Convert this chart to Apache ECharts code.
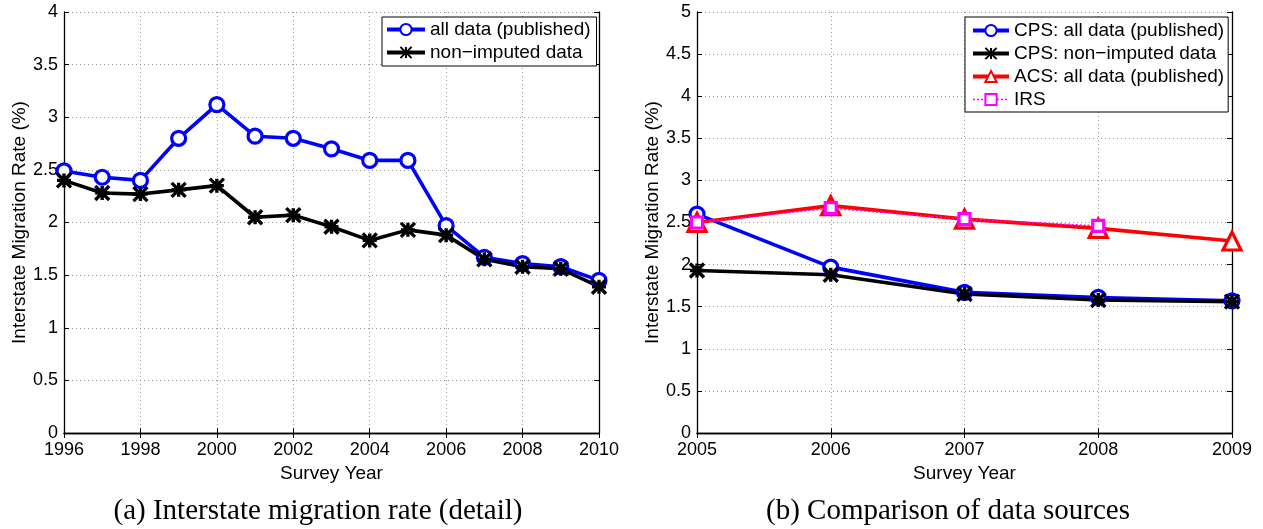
<!DOCTYPE html>
<html><head><meta charset="utf-8">
<script src="https://cdn.jsdelivr.net/npm/echarts@6/dist/echarts.min.js"></script>
<style>html,body{margin:0;padding:0;background:#fff}#c{width:1263px;height:529px}</style>
</head><body><div id="c"></div>
<script>
// ---- data ----
const yearsA = [1996,1997,1998,1999,2000,2001,2002,2003,2004,2005,2006,2007,2008,2009,2010];
const allDataA = [2.49,2.43,2.40,2.80,3.12,2.82,2.80,2.70,2.59,2.59,1.97,1.67,1.61,1.58,1.45];
const nonImputedA = [2.40,2.28,2.27,2.31,2.35,2.05,2.07,1.96,1.83,1.93,1.88,1.65,1.58,1.56,1.39];

const yearsB = [2005,2006,2007,2008,2009];
const cpsAllB = [2.60,1.97,1.67,1.61,1.57];
const cpsNonB = [1.93,1.88,1.65,1.58,1.56];
const acsB = [2.50,2.70,2.54,2.43,2.28];
const irsB = [2.50,2.67,2.54,2.46];

const xRangeA = [1996, 2010, 2];
const xRangeB = [2005, 2009, 1];
const yRangeA = [0, 4, 0.5];
const yRangeB = [0, 5, 0.5];

const namesA = ['all data (published)', 'non\u2212imputed data'];
const namesB = ['CPS: all data (published)', 'CPS: non\u2212imputed data', 'ACS: all data (published)', 'IRS'];
const xTitle = 'Survey Year';
const yTitle = 'Interstate Migration Rate (%)';
const captionA = '(a) Interstate migration rate (detail)';
const captionB = '(b) Comparison of data sources';

// ---- styling ----
const SANS = '"Liberation Sans", Arial, Helvetica, sans-serif';
const SERIF = '"Liberation Serif", "Times New Roman", serif';
const STAR = 'path://M0,0L10,10M10,0L0,10M5,0L5,10M0,5L10,5';
const LW = 3.6;

function pairs(xs, ys) { return ys.map((v, i) => [xs[i], v]); }

function axesFor(gi, xr, yr) {
  const frame = { show: true, lineStyle: { color: '#000', width: 1.3 } };
  const tick = { show: true, inside: true, length: 5, lineStyle: { color: '#000', width: 1 } };
  const grid = { show: true, lineStyle: { color: '#9a9a9a', width: 1, type: [1, 3] } };
  const xs = [
    { type: 'value', gridIndex: gi, position: 'bottom', min: xr[0], max: xr[1], interval: xr[2],
      axisLine: frame, axisTick: tick, splitLine: grid,
      axisLabel: { color: '#000', fontSize: 18, fontFamily: SANS, margin: 8, formatter: v => String(v) },
      name: xTitle, nameLocation: 'middle', nameGap: 23,
      nameTextStyle: { color: '#000', fontSize: 19, fontFamily: SANS } },
    { type: 'value', gridIndex: gi, position: 'top', min: xr[0], max: xr[1], interval: xr[2],
      axisLine: frame, axisTick: tick, splitLine: { show: false }, axisLabel: { show: false } }
  ];
  const ys = [
    { type: 'value', gridIndex: gi, position: 'left', min: yr[0], max: yr[1], interval: yr[2],
      axisLine: frame, axisTick: tick, splitLine: grid,
      axisLabel: { color: '#000', fontSize: 18, fontFamily: SANS, margin: 6 },
      name: yTitle, nameLocation: 'middle', nameGap: 35, nameRotate: 90,
      nameTextStyle: { color: '#000', fontSize: 19, fontFamily: SANS } },
    { type: 'value', gridIndex: gi, position: 'right', min: yr[0], max: yr[1], interval: yr[2],
      axisLine: frame, axisTick: tick, splitLine: { show: false }, axisLabel: { show: false } }
  ];
  return { xs, ys };
}

const aA = axesFor(0, xRangeA, yRangeA);
const aB = axesFor(1, xRangeB, yRangeB);

function blueSeries(name, xi, yi, data) {
  return { name, type: 'line', xAxisIndex: xi, yAxisIndex: yi, data,
    symbol: 'circle', symbolSize: 14,
    lineStyle: { color: '#0000ff', width: LW },
    itemStyle: { color: '#ffffff', borderColor: '#0000ff', borderWidth: 3.2 } };
}
function blackSeries(name, xi, yi, data) {
  return { name, type: 'line', xAxisIndex: xi, yAxisIndex: yi, data,
    symbol: STAR, symbolSize: 14,
    lineStyle: { color: '#000000', width: LW },
    itemStyle: { color: '#000000', borderColor: '#000000', borderWidth: 3.4 } };
}

function legendItems(names, styles) {
  return names.map((n, i) => ({ name: n, lineStyle: styles[i] }));
}

const option = {
  animation: false,
  backgroundColor: '#ffffff',
  grid: [
    { left: 64, top: 12, width: 535, height: 421, containLabel: false },
    { left: 697, top: 12, width: 535, height: 421, containLabel: false }
  ],
  xAxis: [...aA.xs, ...aB.xs],
  yAxis: [...aA.ys, ...aB.ys],
  legend: [
    { data: legendItems(namesA, [{ width: 4 }, { width: 4 }]),
      orient: 'vertical', left: 382, top: 17,
      backgroundColor: '#fff', borderColor: '#000', borderWidth: 1,
      padding: [3, 6, 4, 3], itemGap: 4, itemWidth: 38, itemHeight: 14,
      textStyle: { color: '#000', fontSize: 19, fontFamily: SANS, lineHeight: 19 } },
    { data: legendItems(namesB, [{ width: 4 }, { width: 4 }, { width: 4 }, { width: 1.5, type: [2, 2] }]),
      orient: 'vertical', left: 965, top: 17,
      backgroundColor: '#fff', borderColor: '#000', borderWidth: 1,
      padding: [4, 4, 3, 6], itemGap: 4, itemWidth: 36, itemHeight: 14,
      textStyle: { color: '#000', fontSize: 19, fontFamily: SANS, lineHeight: 19 } }
  ],
  series: [
    blueSeries(namesA[0], 0, 0, pairs(yearsA, allDataA)),
    blackSeries(namesA[1], 0, 0, pairs(yearsA, nonImputedA)),
    blueSeries(namesB[0], 2, 2, pairs(yearsB, cpsAllB)),
    blackSeries(namesB[1], 2, 2, pairs(yearsB, cpsNonB)),
    { name: namesB[2], type: 'line', xAxisIndex: 2, yAxisIndex: 2, data: pairs(yearsB, acsB),
      symbol: 'triangle', symbolSize: 18,
      lineStyle: { color: '#ff0000', width: LW },
      itemStyle: { color: '#ffffff', borderColor: '#ff0000', borderWidth: 3.2 } },
    { name: namesB[3], type: 'line', xAxisIndex: 2, yAxisIndex: 2, data: pairs(yearsB, irsB),
      symbol: 'rect', symbolSize: 11,
      lineStyle: { color: '#ff00ff', width: 1.5, type: [2, 2] },
      itemStyle: { color: '#ffffff', borderColor: '#ff00ff', borderWidth: 3.2 } }
  ],
  graphic: [
    { type: 'text', x: 318, y: 511, style: { text: captionA, fill: '#000', font: '29px ' + SERIF, textAlign: 'center', textVerticalAlign: 'middle' } },
    { type: 'text', x: 948, y: 511, style: { text: captionB, fill: '#000', font: '29px ' + SERIF, textAlign: 'center', textVerticalAlign: 'middle' } }
  ]
};

const chart = echarts.init(document.getElementById('c'), null, { renderer: 'canvas' });
chart.setOption(option);
</script>
</body></html>
